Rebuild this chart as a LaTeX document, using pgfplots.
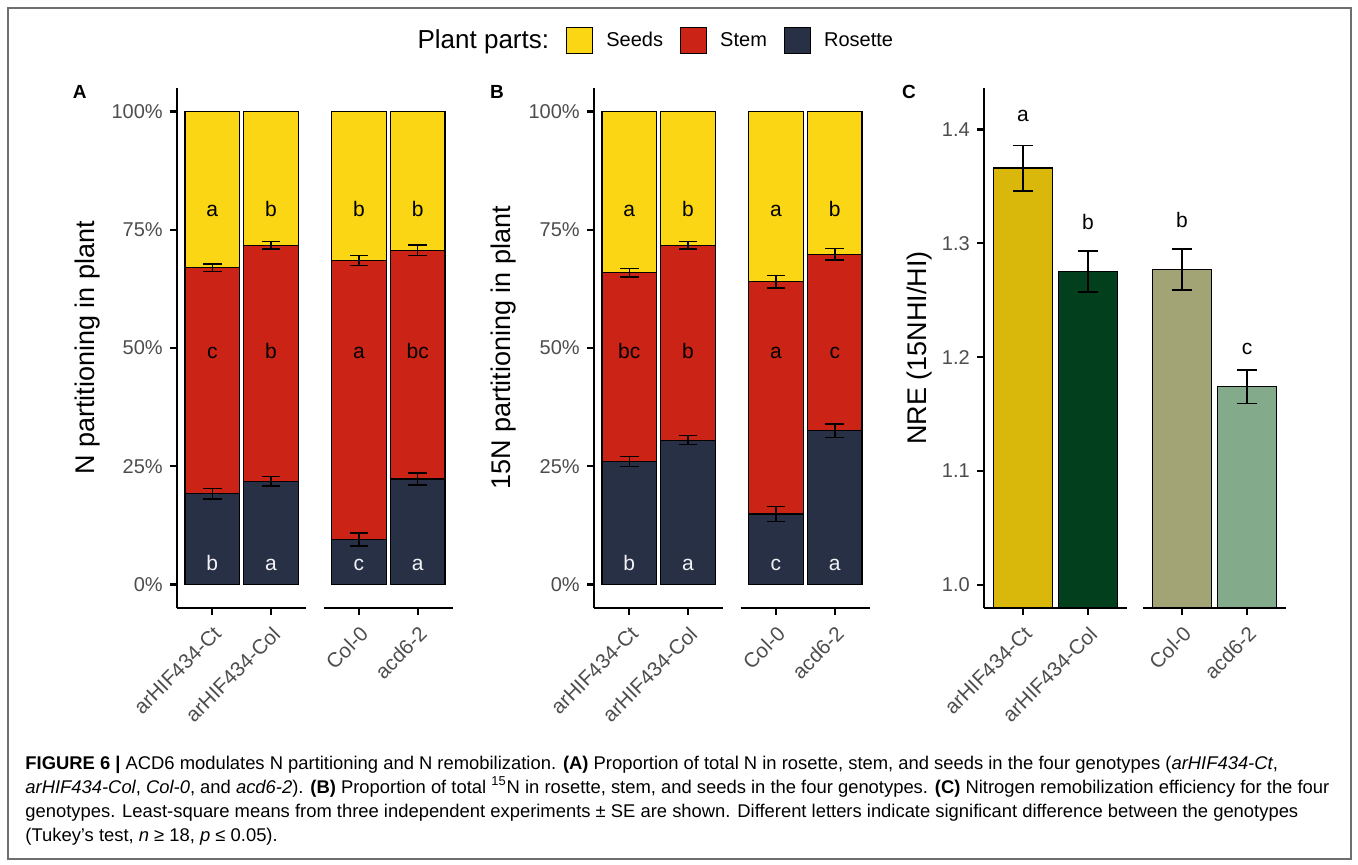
\documentclass[border=0pt]{standalone}
\usepackage{fontspec}
\setmainfont{Liberation Sans}
\usepackage{pgfplots}
\usepackage{pgfplotstable}
\pgfplotsset{compat=1.18}

\definecolor{seedcol}{HTML}{FAD614}
\definecolor{stemcol}{HTML}{CB2316}
\definecolor{rosettecol}{HTML}{283046}
\definecolor{ticktext}{HTML}{4D4D4D}
\definecolor{nreA}{HTML}{D9B70B}
\definecolor{nreB}{HTML}{023F1C}
\definecolor{nreC}{HTML}{A3A476}
\definecolor{nreD}{HTML}{84AA8C}
\definecolor{framegray}{HTML}{6E6E6E}
\definecolor{lighttext}{HTML}{F2F2F6}

% Panel A: total N -- upper boundary of each plant part (cumulative %), with SE
\pgfplotstableread{
x     seeds rosette rosse stemtop stemse
1     100   19.2    1.1   66.96   0.8
2     100   21.8    1.0   71.7    0.8
3.496 100   9.5     1.4   68.5    1.05
4.496 100   22.3    1.25  70.7    1.1
}\tblN

% Panel B: total 15N
\pgfplotstableread{
x     seeds rosette rosse stemtop stemse
1     100   26.0    1.05  65.9    0.9
2     100   30.5    0.95  71.7    0.8
3.496 100   14.9    1.6   64.0    1.35
4.496 100   32.5    1.4   69.8    1.2
}\tblNf

% Tukey letters, dark text (seeds and stem)
\pgfplotstableread{
x     y    lab
1     77.8 a
2     77.8 b
3.496 77.8 b
4.496 77.8 b
1     47.8 c
2     47.8 b
3.496 47.8 a
4.496 47.8 bc
}\letN
\pgfplotstableread{
x     y    lab
1     2.85 b
2     2.85 a
3.496 2.85 c
4.496 2.85 a
}\letNros
\pgfplotstableread{
x     y    lab
1     77.8 a
2     77.8 b
3.496 77.8 a
4.496 77.8 b
1     47.8 bc
2     47.8 b
3.496 47.8 a
4.496 47.8 c
}\letNf
\pgfplotstableread{
x     y    lab
1     2.85 b
2     2.85 a
3.496 2.85 c
4.496 2.85 a
}\letNfros

% Panel C: NRE
\pgfplotstableread{
x     y     se
1     1.366 0.020
2     1.275 0.018
3.446 1.277 0.018
4.446 1.174 0.0147
}\tblNRE
\pgfplotstableread{
x     y     lab
1     1.407 a
2     1.312 b
3.446 1.314 b
4.446 1.202 c
}\letNRE

\pgfplotsset{
  panel/.style={
    scale only axis,
    axis x line*=bottom, axis y line*=left,
    axis line style={line width=1.2pt, black},
    x axis line style={draw=none},
    clip mode=individual,
    tick align=outside, major tick length=3.6pt,
    every tick/.style={line width=1.2pt, black},
    xmin=0.4,
    xticklabels={arHIF434-Ct, arHIF434-Col, Col-0, acd6-2},
    xticklabel style={rotate=45, anchor=north east, font=\fontsize{10.3}{12}\selectfont, text=ticktext},
    yticklabel style={font=\fontsize{10}{12}\selectfont, text=ticktext},
    ylabel style={font=\fontsize{13.5}{16}\selectfont, anchor=center},
  },
  partpanel/.style={
    panel, width=138pt, height=260pt,
    xmax=5.096, xtick={1,2,3.496,4.496},
    ymin=-5, ymax=105, ytick={0,25,50,75,100},
    yticklabels={0\%,25\%,50\%,75\%,100\%},
  },
  partbar/.style={
    ybar, bar width=0.93, bar shift=0pt, draw=black, line width=0.6pt,
    legend image code/.code={\draw[##1, line width=0.6pt] (0pt,-6.5pt) rectangle (13pt,6.5pt);},
  },
  errbars/.style={
    only marks, mark=*, mark size=0pt, mark options={draw=none, fill=none}, forget plot,
    error bars/.cd, y dir=both, y explicit, error mark=|,
    error bar style={black, line width=0.75pt},
    error mark options={black, line width=0.75pt, mark size=#1},
  },
  letters/.style={
    only marks, mark=*, mark size=0pt, mark options={draw=none, fill=none}, forget plot,
    nodes near coords, point meta=explicit symbolic,
    nodes near coords style={anchor=base, font=\fontsize{10.5}{12}\selectfont, text=#1},
  },
}

\begin{document}
\begin{tikzpicture}[x=1pt, y=1pt]
\useasboundingbox (0,0) rectangle (679,432);
\draw[framegray, line width=1pt] (3.75,2.5) rectangle (675.25,428);

%---------------- A ----------------
\begin{axis}[partpanel, at={(88.5pt,128pt)}, anchor=south west,
  ylabel={N partitioning in plant},
  ylabel style={at={(axis description cs:-0.326,0.5)}},
  legend columns=-1, legend cell align=left,
  legend style={draw=none, fill=none, at={(axis description cs:2.632,1.091)}, anchor=east,
    font=\fontsize{10}{12}\selectfont,
    /tikz/every even column/.append style={column sep=6.5pt},
    /tikz/every odd column/.append style={column sep=4.5pt},
    /tikz/column 1/.style={column sep=0pt},
    /tikz/column 2/.style={column sep=4.5pt}},
]
\addlegendimage{empty legend}
\addlegendentry[font=\fontsize{13}{15}\selectfont]{Plant parts:}
\addplot[partbar, fill=seedcol] table[x=x, y=seeds] {\tblN};
\addlegendentry{Seeds}
\addplot[partbar, fill=stemcol] table[x=x, y=stemtop] {\tblN};
\addlegendentry{Stem}
\addplot[partbar, fill=rosettecol] table[x=x, y=rosette] {\tblN};
\addlegendentry{Rosette}
\addplot[errbars=4.7pt] table[x=x, y=stemtop, y error=stemse] {\tblN};
\addplot[errbars=4.7pt] table[x=x, y=rosette, y error=rosse] {\tblN};
\addplot[letters=black] table[x=x, y=y, meta=lab] {\letN};
\addplot[letters=lighttext] table[x=x, y=y, meta=lab] {\letNros};
\draw[line width=1.2pt] (axis cs:0.4,-5) -- (axis cs:2.6,-5);
\draw[line width=1.2pt] (axis cs:2.896,-5) -- (axis cs:5.096,-5);
\end{axis}

%---------------- B ----------------
\begin{axis}[partpanel, at={(297pt,128pt)}, anchor=south west,
  ylabel={15N partitioning in plant},
  ylabel style={at={(axis description cs:-0.327,0.5)}},
]
\addplot[partbar, fill=seedcol] table[x=x, y=seeds] {\tblNf};
\addplot[partbar, fill=stemcol] table[x=x, y=stemtop] {\tblNf};
\addplot[partbar, fill=rosettecol] table[x=x, y=rosette] {\tblNf};
\addplot[errbars=4.7pt] table[x=x, y=stemtop, y error=stemse] {\tblNf};
\addplot[errbars=4.7pt] table[x=x, y=rosette, y error=rosse] {\tblNf};
\addplot[letters=black] table[x=x, y=y, meta=lab] {\letNf};
\addplot[letters=lighttext] table[x=x, y=y, meta=lab] {\letNfros};
\draw[line width=1.2pt] (axis cs:0.4,-5) -- (axis cs:2.6,-5);
\draw[line width=1.2pt] (axis cs:2.896,-5) -- (axis cs:5.096,-5);
\end{axis}

%---------------- C ----------------
\begin{axis}[panel, at={(492pt,128pt)}, anchor=south west, width=151pt, height=260pt,
  xmax=5.046, xtick={1,2,3.446,4.446},
  ymin=0.9798, ymax=1.4363, ytick={1,1.1,1.2,1.3,1.4},
  yticklabels={1.0,1.1,1.2,1.3,1.4},
  ylabel={NRE (15NHI/HI)},
  ylabel style={at={(axis description cs:-0.212,0.5)}},
]
\addplot[ybar, bar width=0.9, bar shift=0pt, draw=black, line width=0.6pt, fill=nreA] table[x=x, y=y, skip coords between index={1}{4}] {\tblNRE};
\addplot[ybar, bar width=0.9, bar shift=0pt, draw=black, line width=0.6pt, fill=nreB] table[x=x, y=y, skip coords between index={0}{1}, skip coords between index={2}{4}] {\tblNRE};
\addplot[ybar, bar width=0.9, bar shift=0pt, draw=black, line width=0.6pt, fill=nreC] table[x=x, y=y, skip coords between index={0}{2}, skip coords between index={3}{4}] {\tblNRE};
\addplot[ybar, bar width=0.9, bar shift=0pt, draw=black, line width=0.6pt, fill=nreD] table[x=x, y=y, skip coords between index={0}{3}] {\tblNRE};
\addplot[errbars=5.2pt] table[x=x, y=y, y error=se] {\tblNRE};
\addplot[letters=black] table[x=x, y=y, meta=lab] {\letNRE};
\draw[line width=1.2pt] (axis cs:0.4,0.9798) -- (axis cs:2.6,0.9798);
\draw[line width=1.2pt] (axis cs:2.846,0.9798) -- (axis cs:5.046,0.9798);
\end{axis}

% panel tags
\node[font=\fontsize{9.5}{11}\selectfont\bfseries] at (39.85,386.15) {A};
\node[font=\fontsize{9.5}{11}\selectfont\bfseries] at (248.5,386) {B};
\node[font=\fontsize{9.5}{11}\selectfont\bfseries] at (454.5,386.15) {C};

% caption
\begin{scope}[every node/.style={anchor=base west, inner sep=0pt, font=\fontsize{9.2}{12}\selectfont}]
\node at (12.5,47.5) {\textbf{FIGURE 6 \textbar} ACD6 modulates N partitioning and N remobilization. \textbf{(A)} Proportion of total N in rosette, stem, and seeds in the four genotypes (\textit{arHIF434-Ct},};
\node at (12.5,35.5) {\textit{arHIF434-Col}, \textit{Col-0}, and \textit{acd6-2}). \textbf{(B)} Proportion of total \textsuperscript{15}N in rosette, stem, and seeds in the four genotypes. \textbf{(C)} Nitrogen remobilization efficiency for the four};
\node at (12.5,23.5) {genotypes. Least-square means from three independent experiments ± SE are shown. Different letters indicate significant difference between the genotypes};
\node at (12.5,11.5) {(Tukey’s test, \textit{n} ≥ 18, \textit{p} ≤ 0.05).};
\end{scope}
\end{tikzpicture}
\end{document}
